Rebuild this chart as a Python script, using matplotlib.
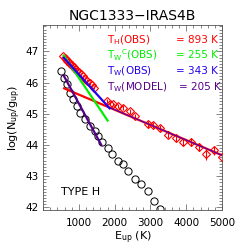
import matplotlib
matplotlib.use("Agg")
import matplotlib.pyplot as plt
import numpy as np

plt.rcParams['font.family'] = ['DejaVu Sans']

# observed points (red diamonds)
e_obs = [560, 600, 640, 680, 720, 760, 800, 850, 900, 950, 1000, 1060, 1120,
         1180, 1240, 1300, 1360, 1420, 1780, 1870, 1960, 2100, 2240, 2430, 2570,
         2920, 3080, 3270, 3480, 3710, 3920, 4120, 4360, 4560, 4780, 4990]
v_obs = [46.85, 46.80, 46.75, 46.70, 46.65, 46.60, 46.55, 46.49, 46.44, 46.38,
         46.33, 46.27, 46.20, 46.13, 46.06, 45.98, 45.91, 45.84, 45.41, 45.33,
         45.30, 45.25, 45.20, 45.09, 44.93, 44.66, 44.64, 44.55, 44.33, 44.21,
         44.10, 44.10, 43.94, 43.72, 43.83, 43.62]
err_obs = [0.05] * 18 + [0.06, 0.06, 0.06, 0.07, 0.07, 0.08, 0.08, 0.10, 0.10,
                         0.10, 0.12, 0.12, 0.12, 0.12, 0.12, 0.20, 0.14, 0.18]

# model points (black circles)
e_mod = [503, 595, 662, 754, 846, 941, 1034, 1173, 1313, 1453, 1545, 1656, 1807,
         1936, 2087, 2243, 2383, 2570, 2737, 2924, 3109, 3268]
v_mod = [46.37, 46.16, 45.94, 45.68, 45.46, 45.25, 45.04, 44.82, 44.61, 44.45,
         44.29, 44.09, 43.91, 43.70, 43.49, 43.38, 43.16, 42.90, 42.74, 42.52,
         42.20, 41.94]

# fits: temperature, start value, E range
fit_names = ['T$_\\mathregular{H}$(OBS)', 'T$_\\mathregular{W}$$^\\mathregular{C}$(OBS)',
             'T$_\\mathregular{W}$(OBS)', 'T$_\\mathregular{W}$(MODEL)']
fit_temp = [893, 255, 343, 205]
fit_start = [45.83, 46.90, 46.82, 46.26]
fit_e0 = [560, 560, 560, 560]
fit_e1 = [5000, 1820, 1880, 1640]
fit_colors = ['#ff0000', '#00ee00', '#2200ee', '#55008c']

fig = plt.figure(figsize=(2.49, 2.49), dpi=100)
ax = fig.add_axes([0.173, 0.157, 0.719, 0.743])

ax.plot(e_mod, v_mod, ls='none', marker='o', ms=5.2, mfc='none', mec='black',
        mew=0.7, zorder=2)

ax.errorbar(e_obs, v_obs, yerr=err_obs, fmt='D', ms=3.8, mfc='none', mec='#ff0000',
            ecolor='#ff0000', mew=0.8, elinewidth=0.8, capsize=0, zorder=3)

for t, v0, e0, e1, c in zip(fit_temp, fit_start, fit_e0, fit_e1, fit_colors):
    e = np.array([e0, e1])
    ax.plot(e, v0 - 0.4343 * (e - e0) / t, color=c, lw=1.6, zorder=4,
            solid_capstyle='butt')

# blue core on the hot part of the red fit
e_hot = np.array([1800, 5000])
ax.plot(e_hot, fit_start[0] - 0.4343 * (e_hot - fit_e0[0]) / fit_temp[0],
        color='#2200ee', lw=0.6, zorder=5)

ax.set_xlim(0, 5000)
ax.set_ylim(41.92, 47.85)
ax.set_xticks([1000, 2000, 3000, 4000, 5000])
ax.set_yticks([42, 43, 44, 45, 46, 47])
ax.xaxis.set_minor_locator(plt.MultipleLocator(200))
ax.yaxis.set_minor_locator(plt.MultipleLocator(0.1))
ax.tick_params(which='both', direction='in', top=True, right=True, labelsize=7.5,
               width=0.5, color='#555555')
ax.tick_params(which='major', length=4, pad=3)
ax.tick_params(which='minor', length=2)
ax.tick_params(axis='x', pad=6)
for s in ax.spines.values():
    s.set_linewidth(0.6)
    s.set_color('#555555')

ax.set_title('NGC1333\u2212IRAS4B', fontsize=10, pad=3.5)
ax.set_xlabel('E$_\\mathregular{up}$ (K)', fontsize=8, labelpad=1)
ax.set_ylabel('log(N$_\\mathregular{up}$/g$_\\mathregular{up}$)', fontsize=8, labelpad=2)

row_y = [0.92, 0.835, 0.75, 0.665]
val_x = [0.975, 0.975, 0.975, 0.995]
for name, t, c, y, xv in zip(fit_names, fit_temp, fit_colors, row_y, val_x):
    ax.text(0.355, y, name, color=c, fontsize=7.5, transform=ax.transAxes, va='center')
    ax.text(xv, y, f'= {t} K', color=c, fontsize=7.5, transform=ax.transAxes,
            va='center', ha='right')

ax.text(0.1, 0.098, 'TYPE H', fontsize=8, transform=ax.transAxes, va='center')

fig.savefig('out.png', dpi=100)
